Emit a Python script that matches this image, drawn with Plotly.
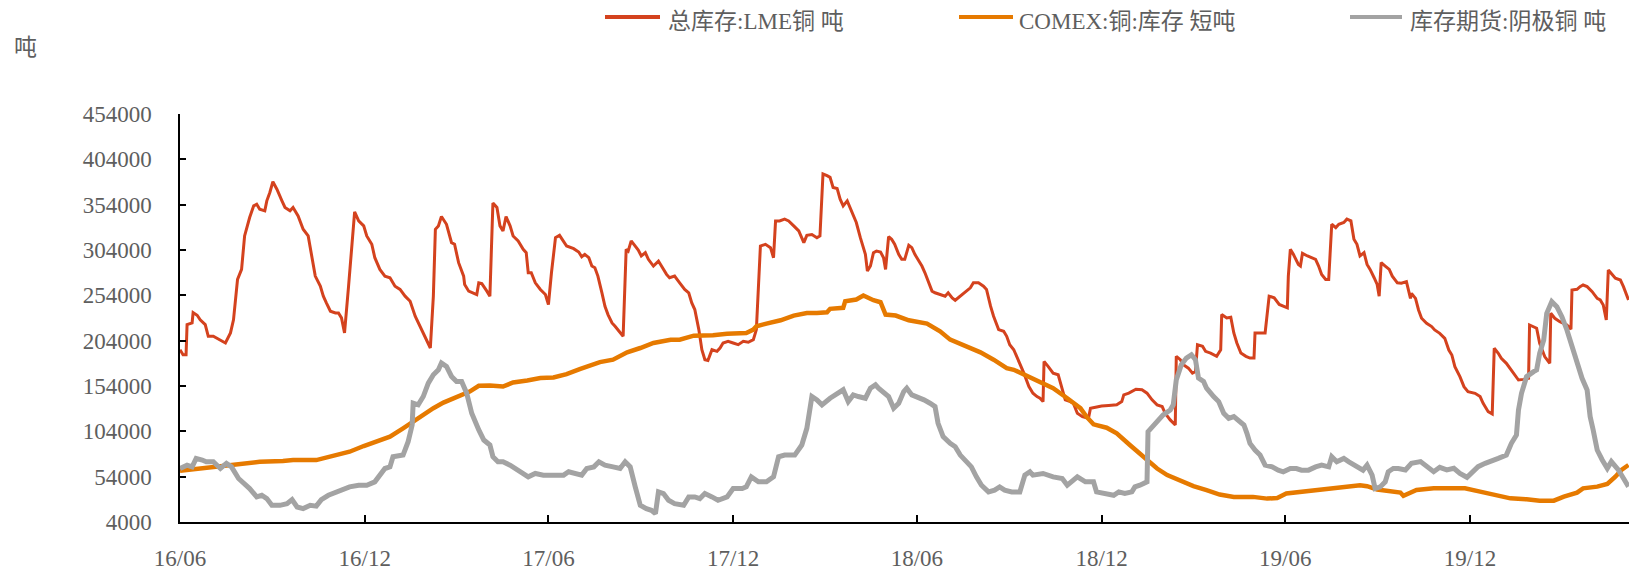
import pandas as pd
import plotly.graph_objects as go

# ---------------- data ----------------
START = "2016-06-01"          # first x tick (16/06)
RANGE_END_DAYS = 1435.5       # visible end of the time axis, days after START

lme_day = [0, 3, 6, 7, 12, 13, 17, 20, 25, 28, 33, 40, 45, 50, 53, 57, 61, 64, 69, 73, 76, 79, 84, 86, 89, 92, 96,
           101, 104, 109, 112, 117, 122, 127, 130, 134, 139, 142, 145, 149, 154, 157, 160, 163, 167, 170, 173, 177,
           182, 185, 190, 193, 198, 203, 208, 213, 218, 223, 228, 233, 238, 243, 248, 251, 253, 256, 259, 264, 269,
           272, 276, 281, 282, 286, 291, 294, 296, 299, 304, 307, 310, 314, 317, 320, 323, 327, 330, 335, 340, 343,
           345, 348, 352, 357, 362, 365, 368, 372, 376, 380, 383, 390, 395, 398, 401, 405, 408, 411, 414,
           418, 421, 424, 428, 431, 436, 439, 442, 444, 447, 451, 454, 457, 461, 464, 469, 474, 477, 482, 485, 490,
           495, 500, 504, 507, 510, 514, 517, 520, 523, 527, 532, 535, 538, 543, 548, 553, 558, 563, 568, 571, 575,
           580, 585, 588, 590, 594, 599, 603, 608, 613, 618, 621, 626, 631, 634, 637, 641, 644, 647, 651, 654, 657,
           661, 664, 667, 670, 674, 677, 679, 681, 684, 687, 690, 694, 697, 699, 702, 705, 708, 712, 715, 718, 722,
           725, 728, 732, 735, 738, 741, 745, 748, 753, 758, 761, 765, 768, 773, 778, 783, 786, 791, 796, 799, 803,
           806, 811, 816, 819, 822, 826, 829, 832, 836, 841,
           845, 849, 852, 855, 856, 860, 865, 870, 874, 877, 882, 885, 889, 894, 900, 902, 907, 913, 920, 928, 933,
           935, 940, 947, 953, 958, 963, 968, 973, 976, 981, 986, 987, 991, 994, 999, 1003, 1006, 1008, 1013, 1016,
           1021, 1027, 1031, 1032, 1037, 1041, 1044, 1047, 1051, 1056, 1060, 1064, 1065, 1070, 1075, 1079, 1084,
           1089, 1094, 1097, 1098, 1100, 1103, 1108, 1110, 1112, 1117, 1122, 1125, 1128, 1131, 1135, 1138, 1141,
           1145, 1148, 1153, 1156, 1160, 1163, 1166, 1169, 1173, 1176, 1179, 1183, 1186, 1188, 1190, 1194, 1198,
           1201, 1206,
           1210, 1215, 1219, 1220, 1224, 1227, 1230, 1235, 1240, 1243, 1248, 1253, 1257, 1260, 1263, 1268, 1272,
           1276, 1283, 1288, 1291, 1296, 1300, 1302, 1306, 1309, 1314, 1319, 1323, 1326, 1331, 1336, 1337, 1341,
           1344, 1347, 1352, 1357, 1358, 1362, 1367, 1374, 1378, 1379, 1384, 1387, 1390, 1394, 1399, 1404, 1407,
           1410, 1413, 1415, 1418, 1422, 1427, 1430, 1435]
lme_ton = [194000, 188500, 188500, 221700, 223500, 235000, 232000, 227000, 221700, 208800, 208800, 205000, 201400,
           212500, 227000, 271500, 282600, 319500, 339800, 352700, 354500, 349000, 347200, 358200, 367500, 379300,
           371000, 358200, 350900, 347200, 350900, 341600, 326900, 319500, 301000, 275200, 264100, 253100, 245700,
           236500, 234600, 234600, 229100, 212500, 264100, 308400, 346000, 336100, 330600, 319500, 310300, 295500,
           282600, 275200, 273400, 264100, 260500, 253100, 247500, 231000, 219900, 207000, 195900, 253100, 326900,
           330600, 340900, 332400, 312100, 310300, 290000, 275200, 266000, 258600, 256800, 254900, 267800, 267000,
           258600, 253100, 355700, 350900, 330600, 325000, 340900, 330600, 319500, 313900, 304700, 301000, 278900,
           278900, 267800, 260500, 254900, 243900, 278900, 317600, 320200, 313900, 308400, 305500, 301800, 296600,
           299200, 295500, 286300, 284500, 275200,
           256800, 242000, 232800, 223600, 219900, 212500, 208800, 304700, 302800, 314000, 308400, 304000, 297400,
           301000, 293700, 286300, 291800, 286300, 277100, 273400, 275200, 267800, 260500, 256800, 245700, 238300,
           216200, 194000, 183000, 182200, 194000, 192200, 195900, 201400, 203300, 201400, 199600, 203300, 202200,
           205100, 216200, 308400, 310300, 306600, 295500, 336100, 336100, 338000, 336100, 330600, 325000, 312100,
           320200, 321100, 317600, 319500, 387800, 386000, 384100, 373000, 371900, 360100, 352700, 358200, 350900,
           343500, 334300, 317600, 306600, 299200, 280800, 286300, 301000, 302800, 301800, 295500, 282600, 318800,
           315800, 310300, 299200, 293700, 293700, 309200, 306600, 299200, 291800, 286300, 278900, 269700, 258600,
           256800, 254900, 253100, 256800, 251200, 248600, 253100, 256800, 262300, 267800, 267800, 264100, 260500,
           242000, 230900, 216200, 214300, 208800, 199600, 194000, 186700, 179300, 168200, 153400,
           146100, 142300, 140500, 136800, 181100, 175600, 168200, 166400, 149800, 138700, 136800, 135000, 123900,
           120200, 118400, 129500, 130600, 132000, 132600, 133200, 136800, 144200, 146100, 150500, 149800, 146100,
           138700, 133200, 131300, 123900, 116600, 111000, 186700, 183000, 177400, 173700, 168200, 170000, 199600,
           197800, 192200, 190300, 186700, 194000, 232800, 229100, 229900, 212500, 201400, 190300, 186700, 184800,
           184800, 212500, 212500, 212500, 253100, 251200, 243900, 242000, 240200, 275200, 304700, 299200, 288100,
           286300, 300300, 297400, 295500, 293700, 286300, 277100, 271500, 271500, 332400, 328700, 332400, 334300,
           338000, 336100, 315800, 310300, 297400, 301000, 288100, 282600, 273400, 266000, 253100, 290000, 286300,
           282600, 275200, 267800,
           267300, 269100, 250700, 256200, 250700, 237900, 228700, 223200, 219500, 215800, 212100, 206600, 193700,
           188200, 175300, 164300, 153300, 147800, 145900, 142300, 134900, 125700, 123100, 195600, 190100, 184500,
           179000, 171700, 166200, 160600, 161300, 162400, 221300, 219500, 217700, 201100, 186400, 179000, 234200,
           228700, 225000, 221300, 216500, 259900, 260600, 263600, 265400, 263600, 258100, 250700, 248900, 243400,
           226800, 282000, 278400, 272800, 270900, 263600, 248900]

comex_day = [0, 20, 36, 53, 69, 79, 102, 112, 135, 142, 155, 168, 182, 195, 208, 221, 231, 239, 251, 261, 274, 287,
             296, 307, 320, 330, 344, 357, 370, 383, 396, 413, 416, 429, 443, 456, 469, 486, 495, 509, 528, 542, 561,
             568, 571, 581, 595, 608, 621, 631, 641, 644, 657, 659, 670, 677, 687, 694, 699, 709, 722, 740, 753, 763,
             776, 793, 806, 819, 826, 839, 852, 865, 879, 892, 898, 905, 918, 928, 941, 954, 968, 978, 991, 1004,
             1017, 1030, 1044, 1063, 1077, 1087, 1096, 1110, 1126, 1143, 1156, 1169, 1176, 1186, 1209, 1212, 1225,
             1242, 1258, 1273, 1288, 1305, 1318, 1334, 1347, 1361, 1371, 1384, 1390, 1404, 1414, 1422, 1428, 1435]
comex_ton = [60500, 63000, 65600, 66700, 68600, 70400, 71200, 72300, 72300, 74100, 77800, 81500, 87800, 92600, 98100,
             107300, 114700, 122100, 129500, 135700, 142400, 147900, 154200, 154600, 153400, 157900, 160100, 162700,
             163400, 167100, 172600, 179300, 180400, 183000, 191100, 195900, 201400, 205100, 205100, 209500, 209900,
             211700, 212500, 216200, 219900, 222800, 226500, 231700, 234600, 234600, 235400, 239100, 240200, 247500,
             249400, 253800, 248600, 246400, 232800, 231700, 226500, 222800, 214300, 205100, 198500, 191100, 183000,
             173700, 171900, 165300, 159000, 151600, 140500, 129500, 120200, 111700, 108000, 101800, 88900, 76000,
             63000, 55700, 49000, 43500, 39100, 34300, 31700, 31700, 29800, 30500, 35400, 37200, 39800, 40900, 42700,
             44600, 43500, 39800, 36500, 33000, 39300, 41100, 41100, 41100, 37500, 33800, 30100, 29000, 27500, 27500,
             32000, 36400, 41100, 43000, 45900, 54000, 61400, 66900]

shfe_day = [0, 7, 12, 16, 22, 26, 33, 40, 46, 51, 58, 64, 69, 76, 81, 86, 91, 99, 106, 111, 116, 122, 129, 135, 140,
            147, 155, 162, 168, 177, 185, 193, 198, 203, 208, 211, 221, 226, 230, 231, 236, 241, 246, 251, 256, 259,
            264, 269, 274, 279, 284, 289, 296, 301, 307, 310, 315, 320, 327, 334, 340, 345, 352, 360, 370, 380, 385,
            391, 398, 403, 410, 415,
            421, 429, 436, 441, 446, 451, 456, 462, 467, 471, 474, 479, 484, 490, 499, 504, 510, 515, 520, 527, 533,
            542, 548, 557, 561, 566, 573, 581, 588, 593, 599, 609, 616, 621, 626, 631, 636, 644, 651, 657, 662, 667,
            672, 679, 684, 689, 692, 697, 702, 707, 712, 717, 720, 725, 730, 737, 743, 748, 751, 756, 763, 768, 773,
            779, 784, 789, 794, 801, 807, 812, 817, 824, 832, 837, 842,
            845, 855, 865, 874, 879, 884, 889, 897, 905, 908, 918, 925, 930, 936, 943, 946, 951, 958, 959, 964, 969,
            974, 981, 984, 987, 992, 997, 1002, 1006, 1009, 1014, 1017, 1024, 1029, 1034, 1039, 1044, 1049, 1054,
            1057, 1060, 1065, 1070, 1075, 1082, 1088, 1093, 1100, 1106, 1111, 1118, 1125, 1131, 1138, 1141, 1146,
            1153, 1158, 1163, 1167, 1172, 1176, 1181, 1184, 1189, 1194, 1197, 1202, 1207,
            1214, 1220, 1229, 1235, 1242, 1248, 1255, 1262, 1268, 1275, 1280, 1286, 1293, 1300, 1306, 1314, 1319,
            1324, 1326, 1329, 1334, 1341, 1344, 1347, 1351, 1354, 1359, 1364, 1369, 1374, 1379, 1384, 1389, 1394,
            1397, 1400, 1404, 1409, 1414, 1418, 1425, 1430, 1435]
shfe_ton = [63000, 66700, 64800, 74100, 72300, 70400, 70400, 63000, 68600, 64800, 52000, 46400, 40900, 31700, 33500,
            29800, 22400, 22400, 24300, 28700, 20600, 18800, 22400, 21500, 28700, 33500, 37200, 39100, 42700, 44600,
            44600, 48300, 55700, 63000, 64800, 76000, 77800, 92600, 111000, 135000, 133200, 142400, 157100, 166400,
            171900, 179300, 175600, 164500, 159000, 159000, 146100, 123900, 105500, 94400, 88900, 76000, 70400,
            70400, 66700, 61200, 57500, 53800, 57500, 55700, 55700, 55700, 59400, 57500, 55700, 63000, 64800, 70400,
            66700, 64800, 63000, 70400, 64800, 42700, 22400, 18800, 16900, 13200, 37200, 35400, 28000, 24300, 22400,
            31700, 31700, 29800, 35400, 31700, 28000, 31700, 40900, 40900, 42700, 53800, 48300, 48300, 53800, 76000,
            77800, 77800, 88900, 107300, 142400, 138700, 133200, 140500, 146100, 149800, 136800, 144200, 142400,
            140500, 151600, 155300, 151600, 146100, 142400, 129500, 135000, 147900, 151600, 144200, 142400, 138700,
            135000, 131300, 112900, 98100, 90700, 87000, 77800, 70400, 64800, 53800, 44600, 37200, 39100, 42700,
            39100, 37200, 37200, 55700, 59400,
            55700, 57500, 53800, 52000, 44600, 50100, 53800, 48300, 48300, 37200, 35400, 33500, 37200, 35400, 37200,
            42700, 44600, 48300, 103600, 109200, 114700, 122100, 127600, 133200, 160800, 177400, 184800, 188500,
            183000, 162700, 159000, 151600, 142400, 136800, 123900, 118400, 120200, 114700, 111000, 101800, 90700,
            83300, 77800, 66700, 64800, 61200, 59400, 63000, 63000, 61200, 61200, 64800, 66700, 64800, 76000, 70400,
            74100, 70400, 66700, 64800, 61200, 66700, 55700, 40900, 42700, 48300, 59400, 63000, 63000,
            61400, 68700, 70600, 65000, 59500, 64300, 61400, 63200, 57700, 53300, 59500, 65000, 68700, 72400, 74200,
            77900, 90800, 100000, 127500, 145900, 164300, 169800, 171700, 190100, 204800, 234200, 247000, 241500,
            230500, 215800, 197400, 177200, 162500, 149600, 120200, 105500, 83400, 72400, 63200, 70600, 61400, 52200,
            43000]

series_names = ["总库存:LME铜 吨", "COMEX:铜:库存 短吨", "库存期货:阴极铜 吨"]
series_colors = ["#D4421E", "#E67A00", "#A3A3A3"]
series_widths = [3, 4.5, 5]
y_ticks = list(range(4000, 454001, 50000))
unit_label = "吨"
tick_fmt = "%y/%m"
clipped_tick_date = "2020-06-01"
clipped_tick_text = "20/06"

# ---------------- figure ----------------
W, H = 1629, 575
ML, MR, MT, MB = 180, 0, 114, 53
PW, PH = W - ML - MR, H - MT - MB
FONT = "Liberation Serif, Noto Sans CJK SC, serif"
TXT = "#5e5e5e"
FS = 23
XLAB_TOP = 548   # top of the x tick label boxes (px from top)

start = pd.Timestamp(START)
def to_dates(days):
    return start + pd.to_timedelta(days, unit="D")

end = start + pd.Timedelta(days=RANGE_END_DAYS)

fig = go.Figure()
for days, vals, name, col, w in zip([lme_day, comex_day, shfe_day], [lme_ton, comex_ton, shfe_ton],
                                    series_names, series_colors, series_widths):
    fig.add_trace(go.Scatter(x=to_dates(days), y=vals, mode="lines", name=name,
                             line=dict(color=col, width=w), showlegend=False))

def px_x(px):
    return (px - ML) / PW
def px_y(py):
    return (H - MB - py) / PH

# manual legend (line swatch + text)
legend_pos = [(605, 660, 666), (959, 1013, 1017), (1350, 1402, 1408)]
for (x0, x1, xt), name, col in zip(legend_pos, series_names, series_colors):
    fig.add_shape(type="line", xref="paper", yref="paper", x0=px_x(x0), x1=px_x(x1),
                  y0=px_y(17), y1=px_y(17), line=dict(color=col, width=4))
    fig.add_annotation(xref="paper", yref="paper", x=px_x(xt), y=px_y(22), xanchor="left", yanchor="middle",
                       text=name, showarrow=False, font=dict(family=FONT, size=FS, color=TXT))

# unit label
fig.add_annotation(xref="paper", yref="paper", x=px_x(12), y=px_y(48), xanchor="left", yanchor="middle",
                   text=unit_label, showarrow=False, font=dict(family=FONT, size=FS, color=TXT))

# clipped tick label at the right edge
frac = (pd.Timestamp(clipped_tick_date) - start) / (end - start)
fig.add_annotation(xref="paper", yref="paper", x=frac, y=px_y(XLAB_TOP), xanchor="center", yanchor="top",
                   text=clipped_tick_text, showarrow=False, font=dict(family=FONT, size=FS, color=TXT))

fig.update_layout(
    width=W, height=H, margin=dict(l=ML, r=MR, t=MT, b=MB, pad=0, autoexpand=False),
    paper_bgcolor="white", plot_bgcolor="white", showlegend=False,
    font=dict(family=FONT, size=FS, color=TXT),
)
fig.update_xaxes(type="date", range=[start, end], tick0=START, dtick="M6", tickformat=tick_fmt,
                 automargin=False,
                 showgrid=False, zeroline=False, showline=True, linecolor="black", linewidth=1.5,
                 ticks="inside", ticklen=7, tickwidth=1.5, tickcolor="black", ticklabelstandoff=15,
                 tickfont=dict(family=FONT, size=FS, color=TXT))
fig.update_yaxes(range=[4000, 454000], tickvals=y_ticks, tickformat="d", automargin=False,
                 showgrid=False, zeroline=False, showline=True, linecolor="black", linewidth=1.5,
                 ticks="inside", ticklen=6, tickwidth=1.5, tickcolor="black", ticklabelstandoff=22,
                 tickfont=dict(family=FONT, size=FS, color=TXT))

fig.write_html("out.html", config={"displayModeBar": False},
               post_script="document.body.style.margin='0';document.body.style.overflow='hidden';")
